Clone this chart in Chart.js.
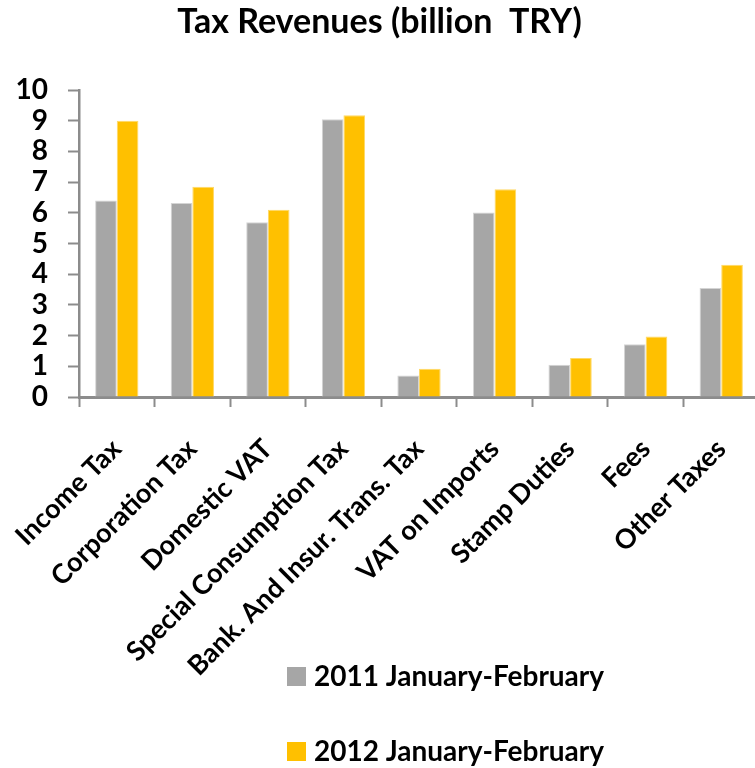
<!DOCTYPE html>
<html>
<head>
<meta charset="utf-8">
<script src="https://cdn.jsdelivr.net/npm/chart.js@4"></script>
<style>
    html, body { margin: 0; padding: 0; background: #fff; overflow: hidden; }
    canvas { display: block; }
</style>
</head>
<body>
<canvas id="taxChart" width="762" height="768"></canvas>
<script>
// Vergi kalemleri ve iki dönemin tutarları (milyar TL)
const categories = [
    'Income Tax',
    'Corporation Tax',
    'Domestic VAT',
    'Special Consumption Tax',
    'Bank. And Insur. Trans. Tax',
    'VAT on Imports',
    'Stamp Duties',
    'Fees',
    'Other Taxes'
];
const seriesLabels = ['2011 January-February', '2012 January-February'];
const values2011 = [6.4, 6.32, 5.69, 9.05, 0.7, 6.01, 1.05, 1.72, 3.55];
const values2012 = [9.0, 6.85, 6.1, 9.18, 0.92, 6.77, 1.27, 1.97, 4.31];
const yTicks = [0, 1, 2, 3, 4, 5, 6, 7, 8, 9, 10];

const FONT = 'Lato, "Open Sans", sans-serif';
const axisGray = '#8c8c8c';

// Lejant: alt alta iki satır, grafiğin altında
const stackedLegend = {
    id: 'stackedLegend',
    afterDraw(chart) {
        const ctx = chart.ctx;
        ctx.save();
        ctx.font = 'bold 28px ' + FONT;
        ctx.textBaseline = 'middle';
        ctx.textAlign = 'left';
        chart.data.datasets.forEach((ds, i) => {
            const top = 667 + i * 75;
            ctx.fillStyle = ds.backgroundColor;
            ctx.fillRect(287, top, 19, 19);
            ctx.fillStyle = '#000';
            ctx.fillText(ds.label, 314, top + 10);
        });
        ctx.restore();
    }
};

const ctx = document.getElementById('taxChart').getContext('2d');
const taxChart = new Chart(ctx, {
    type: 'bar',
    data: {
        labels: categories,
        datasets: [
            {
                label: seriesLabels[0],
                data: values2011,
                backgroundColor: '#a6a6a6',
                borderColor: '#d4d4d4',
                borderWidth: 1,
                barPercentage: 1,
                categoryPercentage: 0.573
            },
            {
                label: seriesLabels[1],
                data: values2012,
                backgroundColor: '#ffc000',
                borderColor: '#ffd966',
                borderWidth: 1,
                barPercentage: 1,
                categoryPercentage: 0.573
            }
        ]
    },
    options: {
        responsive: false,
        animation: false,
        layout: { padding: { left: 0, right: 3, top: 0, bottom: 0 } },
        plugins: {
            legend: { display: false },
            tooltip: { enabled: false },
            title: {
                display: true,
                text: 'Tax Revenues (billion  TRY)',
                color: '#000',
                font: { family: FONT, size: 34, weight: 'bold', lineHeight: 1.2 },
                padding: { top: 2, bottom: 47.2 }
            }
        },
        scales: {
            x: {
                offset: true,
                grid: {
                    display: true,
                    drawOnChartArea: false,
                    drawTicks: true,
                    tickLength: 10,
                    tickWidth: 2,
                    tickColor: axisGray
                },
                border: { display: true, color: axisGray, width: 3 },
                ticks: {
                    color: '#000',
                    font: { family: FONT, size: 27, weight: 'bold' },
                    minRotation: 45,
                    maxRotation: 45,
                    autoSkip: false,
                    padding: 26
                },
                afterFit(scale) {
                    scale.height = 371;
                    // eğik etiketler için ek kenar boşluğu istemiyoruz
                    scale.paddingLeft = 0;
                    scale.paddingRight = 0;
                }
            },
            y: {
                min: 0,
                max: 10,
                afterBuildTicks(scale) {
                    scale.ticks = yTicks.map(v => ({ value: v }));
                },
                grid: {
                    display: true,
                    drawOnChartArea: false,
                    drawTicks: true,
                    tickLength: 11,
                    tickWidth: 2,
                    tickColor: axisGray
                },
                border: { display: true, color: axisGray, width: 2.5 },
                ticks: {
                    color: '#000',
                    font: { family: FONT, size: 28, weight: 'bold' },
                    autoSkip: false,
                    padding: 20
                },
                afterFit(scale) { scale.width = 79; }
            }
        }
    },
    plugins: [stackedLegend]
});
</script>
</body>
</html>
